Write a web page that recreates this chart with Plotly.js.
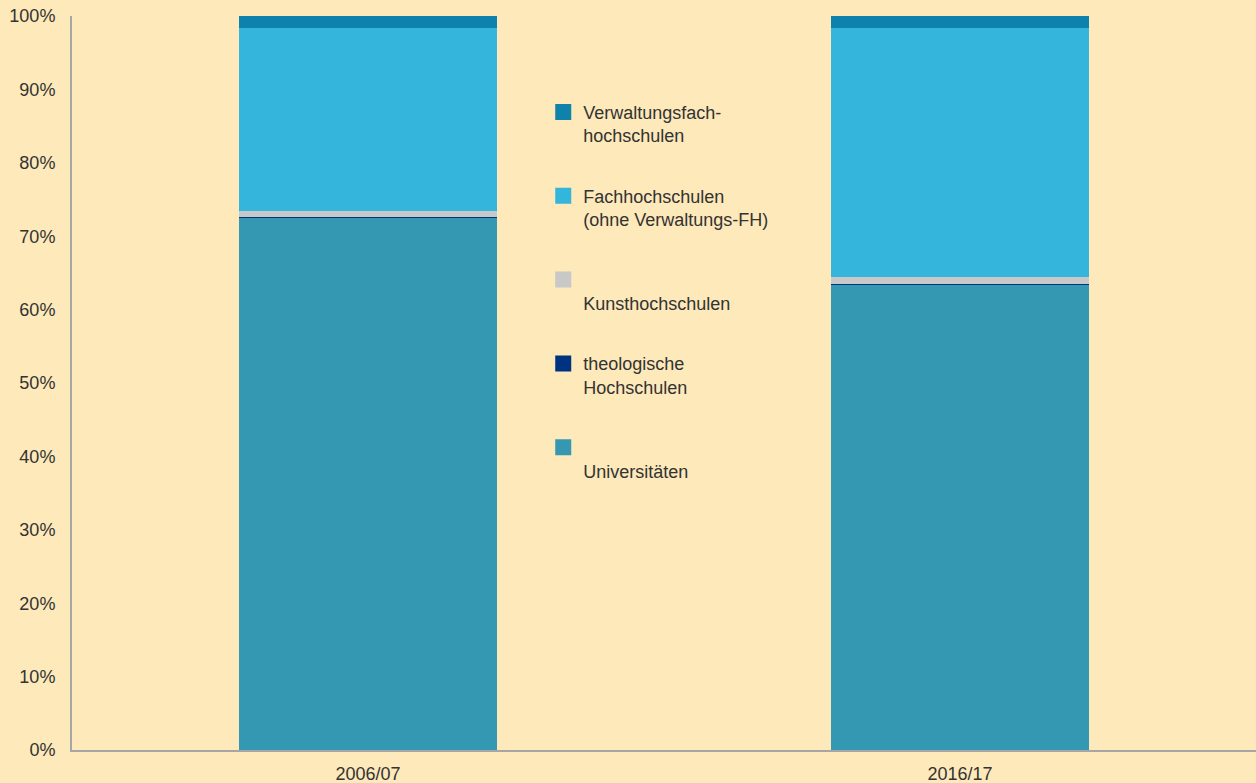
<!DOCTYPE html>
<html>
<head>
<meta charset="utf-8">
<script src="https://cdn.plot.ly/plotly-3.0.1.min.js"></script>
<style>html,body{margin:0;padding:0;background:#fde9b9;}#chart{width:1256px;height:783px;}</style>
</head>
<body>
<div id="chart"></div>
<script>
const categories = ["2006/07", "2016/17"];
const seriesNames = ["<br>Universitäten", "theologische<br>Hochschulen", "<br>Kunsthochschulen", "Fachhochschulen<br>(ohne Verwaltungs-FH)", "Verwaltungsfach-<br>hochschulen"];
const universitaeten = [72.5, 63.4];
const theologische = [0.1, 0.1];
const kunsthochschulen = [0.9, 0.9];
const fachhochschulen = [24.9, 34.0];
const verwaltungsfh = [1.6, 1.6];
const seriesColors = ["#3498b2", "#00337f", "#c8c8c8", "#33b5dc", "#0e82ab"];
const legendRanks = [5, 4, 3, 2, 1];
const yTickVals = [0,10,20,30,40,50,60,70,80,90,100];
const yTickText = ["0%","10%","20%","30%","40%","50%","60%","70%","80%","90%","100%"];

const seriesValues = [universitaeten, theologische, kunsthochschulen, fachhochschulen, verwaltungsfh];
const barTraces = seriesValues.map((vals, i) => ({
  type: "bar",
  x: categories,
  y: vals,
  name: seriesNames[i].replace(/<br>/g, " ").trim(),
  showlegend: false,
  marker: {color: seriesColors[i], line: {width: 0}},
  hoverinfo: "x+y+name"
}));
const legendTraces = seriesNames.map((nm, i) => ({
  type: "scatter",
  mode: "markers",
  x: [null],
  y: [null],
  name: nm,
  legendgroup: "g" + i,
  legendrank: legendRanks[i],
  marker: {symbol: "square", size: 16, color: seriesColors[i], line: {width: 0}},
  hoverinfo: "skip"
}));

const layout = {
  width: 1256, height: 783,
  paper_bgcolor: "#fde9b9",
  plot_bgcolor: "#fde9b9",
  font: {family: "Liberation Sans, Arial, sans-serif", size: 18, color: "#333333"},
  margin: {l: 72, r: 0, t: 16, b: 33},
  barmode: "stack",
  bargap: 0.564,
  showlegend: true,
  legend: {
    x: 0.398, y: 0.894, xanchor: "left", yanchor: "top",
    traceorder: "grouped",
    tracegroupgap: 34,
    valign: "top",
    itemsizing: "trace",
    bgcolor: "rgba(0,0,0,0)",
    font: {size: 18, color: "#333333"}
  },
  xaxis: {
    type: "category",
    showgrid: false, zeroline: false,
    showline: true, linecolor: "#a6a6a6", linewidth: 2,
    ticks: "outside", ticklen: 6, tickcolor: "rgba(0,0,0,0)",
    tickfont: {size: 18, color: "#333333"},
    range: [-0.5, 1.5]
  },
  yaxis: {
    range: [0, 100],
    tickvals: yTickVals, ticktext: yTickText,
    showgrid: false, zeroline: false,
    showline: true, linecolor: "#a6a6a6", linewidth: 2,
    ticks: "outside", ticklen: 11, tickcolor: "rgba(0,0,0,0)",
    tickfont: {size: 18, color: "#333333"}
  }
};

Plotly.newPlot("chart", barTraces.concat(legendTraces), layout, {displayModeBar: false, staticPlot: true});
</script>
</body>
</html>
